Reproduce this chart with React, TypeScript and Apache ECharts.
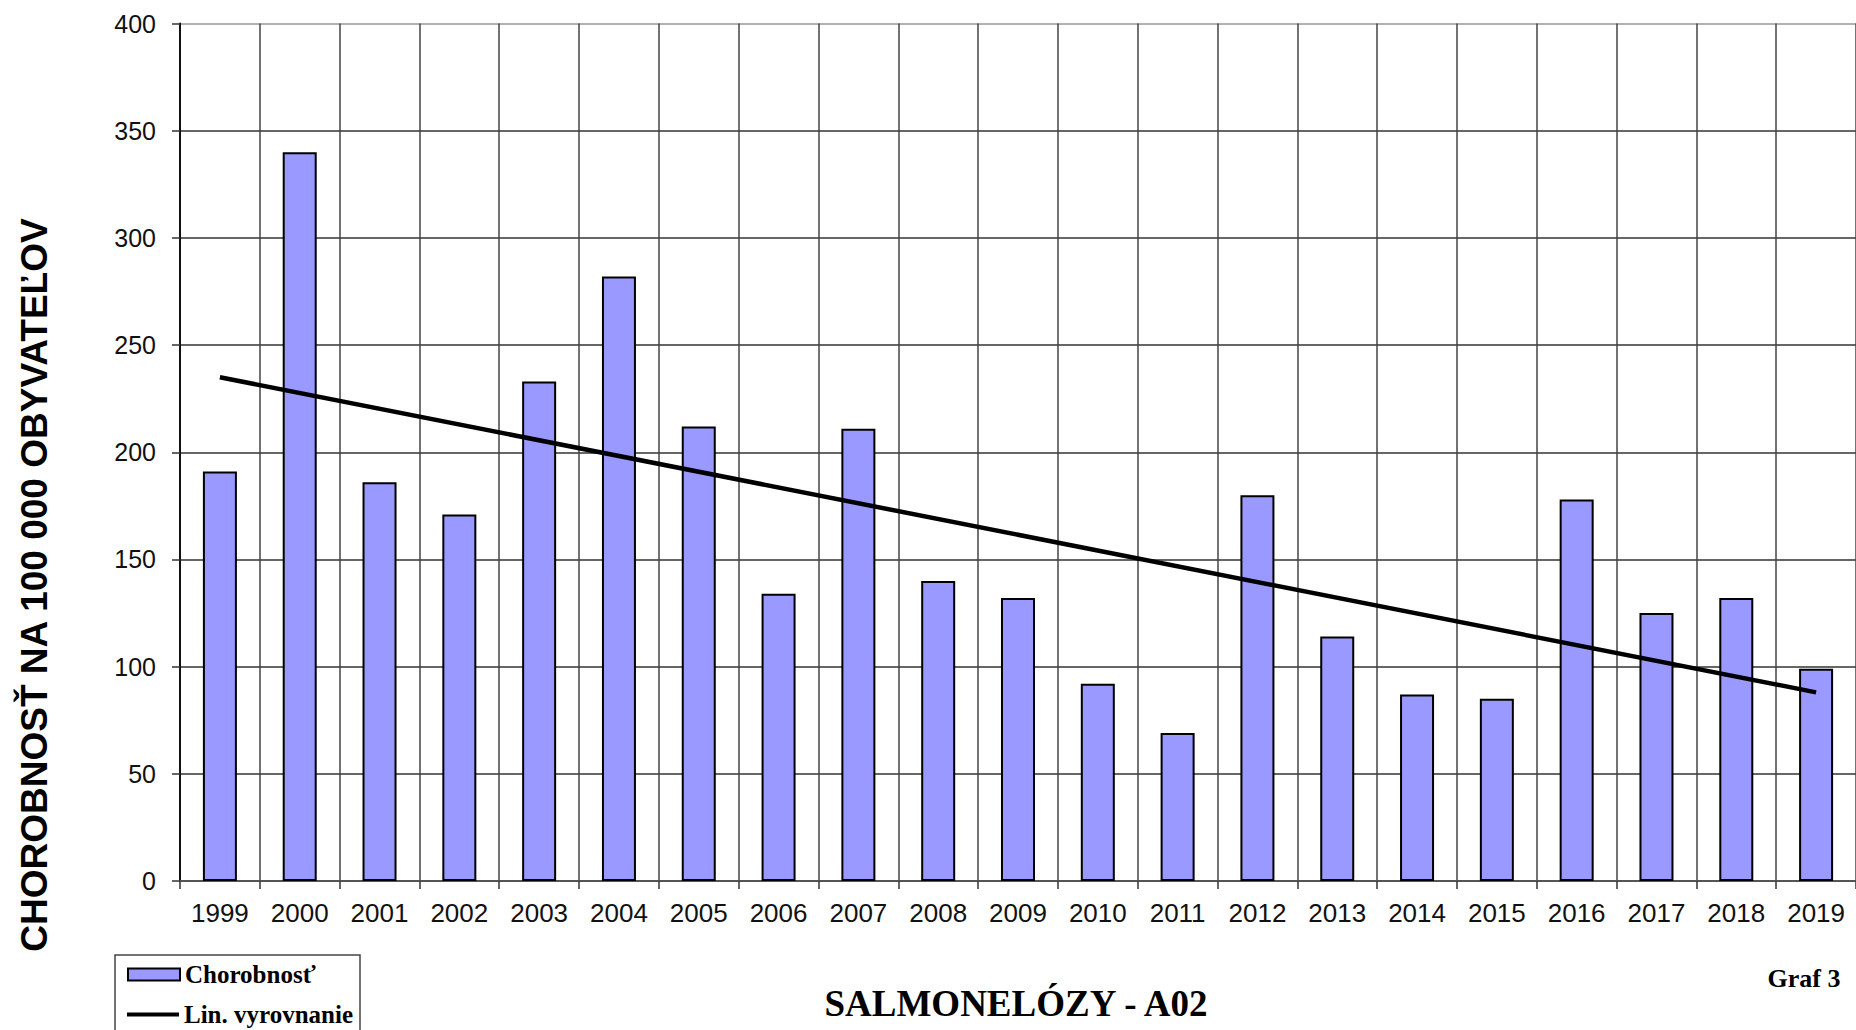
import React, { useEffect, useRef } from "react";
import * as echarts from "echarts";

const years = ["1999","2000","2001","2002","2003","2004","2005","2006","2007","2008","2009","2010","2011","2012","2013","2014","2015","2016","2017","2018","2019"];
const incidence = [191, 340, 186, 171, 233, 282, 212, 134, 211, 140, 132, 92, 69, 180, 114, 87, 85, 178, 125, 132, 99];
// linear trend line endpoints (1999 and 2019)
const trend = [235, null, null, null, null, null, null, null, null, null, null, null, null, null, null, null, null, null, null, null, 88];
const yTicks = [0, 50, 100, 150, 200, 250, 300, 350, 400];

const SANS = "'Liberation Sans', Arial, sans-serif";
const SERIF = "'Liberation Serif', 'Times New Roman', serif";

export default function App() {
  const ref = useRef<HTMLDivElement>(null);
  useEffect(() => {
    if (!ref.current) return;
    const chart = echarts.init(ref.current, null, { renderer: "svg" });
    const splitColors = yTicks.map((_, i) => (i === yTicks.length - 1 ? "#999999" : "#333333"));
    const legendText = { fontFamily: SERIF, fontWeight: "bold", fontSize: 25, color: "#000" };
    chart.setOption({
      animation: false,
      backgroundColor: "#ffffff",
      grid: { left: 180, top: 23.5, right: -8, bottom: 149, containLabel: false },
      legend: [
        {
          left: 127,
          top: 962,
          padding: 0,
          itemWidth: 52,
          itemHeight: 12,
          textStyle: legendText,
          data: [{ name: "Chorobnosť", icon: "rect", itemStyle: { color: "#9999FF", borderColor: "#000", borderWidth: 2 } }],
        },
        {
          left: 127,
          top: 1002,
          padding: 0,
          itemWidth: 52,
          itemHeight: 4,
          textStyle: legendText,
          data: [{ name: "Lin. vyrovnanie", icon: "rect", itemStyle: { color: "#000000", borderWidth: 0 } }],
        },
      ],
      xAxis: {
        type: "category",
        data: years,
        boundaryGap: true,
        axisLine: { show: true, lineStyle: { color: "#555555", width: 2 } },
        axisTick: { show: true, length: 8, interval: 0, lineStyle: { color: "#333333", width: 1.5 } },
        axisLabel: { interval: 0, margin: 19, fontFamily: SANS, fontSize: 26, color: "#111" },
        splitLine: { show: true, interval: 0, lineStyle: { color: "#444444", width: 1.5 } },
      },
      yAxis: {
        type: "value",
        min: 0,
        max: 400,
        interval: 50,
        axisLine: { show: true, lineStyle: { color: "#111111", width: 2 } },
        axisTick: { show: true, length: 8, lineStyle: { color: "#333333", width: 1.5 } },
        axisLabel: { margin: 24, fontFamily: SANS, fontSize: 25, color: "#111" },
        splitLine: { show: true, lineStyle: { color: splitColors, width: 1.5 } },
      },
      series: [
        {
          name: "Chorobnosť",
          type: "bar",
          data: incidence,
          barWidth: 34,
          itemStyle: { color: "#9999FF", borderColor: "#000000", borderWidth: 2 },
          z: 2,
        },
        {
          name: "Lin. vyrovnanie",
          type: "line",
          data: trend,
          connectNulls: true,
          symbol: "none",
          lineStyle: { color: "#000000", width: 4.5 },
          itemStyle: { color: "#000000" },
          z: 3,
        },
      ],
      graphic: [
        {
          type: "rect",
          shape: { x: 115, y: 955, width: 245, height: 100 },
          style: { fill: "#ffffff", stroke: "#444444", lineWidth: 1.5 },
          z: -1,
        },
        {
          type: "text",
          x: 34,
          y: 585,
          rotation: Math.PI / 2,
          style: {
            text: "CHOROBNOSŤ NA 100 000 OBYVATEĽOV",
            fontFamily: SANS,
            fontWeight: "bold",
            fontSize: 37,
            fill: "#000",
            align: "center",
            verticalAlign: "middle",
          },
        },
        {
          type: "text",
          x: 1016,
          y: 1003,
          style: {
            text: "SALMONELÓZY - A02",
            fontFamily: SERIF,
            fontWeight: "bold",
            fontSize: 37,
            fill: "#000",
            align: "center",
            verticalAlign: "middle",
          },
        },
        {
          type: "text",
          x: 1804,
          y: 978,
          style: {
            text: "Graf 3",
            fontFamily: SERIF,
            fontWeight: "bold",
            fontSize: 26,
            fill: "#000",
            align: "center",
            verticalAlign: "middle",
          },
        },
      ],
    });
    return () => chart.dispose();
  }, []);
  return (
    <div
      ref={ref}
      style={{ position: "fixed", left: 0, top: 0, width: 1856, height: 1030, background: "#fff" }}
    />
  );
}
